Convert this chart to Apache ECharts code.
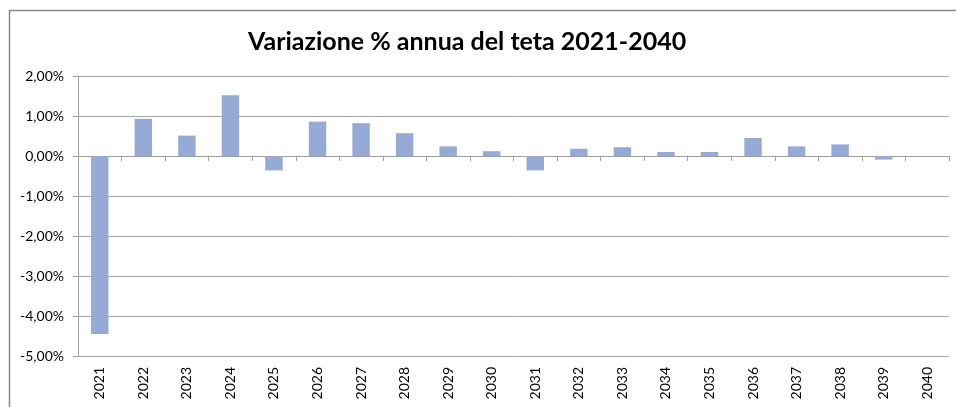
<!DOCTYPE html>
<html>
<head>
<meta charset="utf-8">
<script src="https://cdn.jsdelivr.net/npm/echarts@6/dist/echarts.min.js"></script>
<style>
html,body{margin:0;padding:0;background:#fff;}
#c{width:956px;height:407px;}
</style>
</head>
<body>
<div id="c"></div>
<script>
const categories = ['2021','2022','2023','2024','2025','2026','2027','2028','2029','2030','2031','2032','2033','2034','2035','2036','2037','2038','2039','2040'];
const values = [-4.45, 0.93, 0.51, 1.52, -0.36, 0.86, 0.82, 0.57, 0.24, 0.12, -0.36, 0.18, 0.22, 0.10, 0.10, 0.45, 0.24, 0.29, -0.09, 0];
const titleText = 'Variazione % annua del teta 2021-2040';
const yMin = -5, yMax = 2, yStep = 1;

const chart = echarts.init(document.getElementById('c'), null, {renderer:'canvas'});
const font = 'Lato, "Open Sans", sans-serif';
chart.setOption({
  animation: false,
  backgroundColor: '#fff',
  graphic: [{
    type: 'rect', left: 7, top: 8, z: -1,
    shape: {width: 960, height: 410},
    style: {fill: 'none', stroke: '#888', lineWidth: 1.5}
  }],
  title: {
    text: titleText, left: 243, top: 24,
    textStyle: {fontFamily: font, fontWeight: 'bold', fontSize: 25, color: '#000'}
  },
  grid: {left: 78, right: 7, top: 76, bottom: 51, containLabel: false},
  xAxis: [{
    type: 'category', data: categories,
    axisLine: {onZero: true, lineStyle: {color: '#a0a0a0', width: 1}},
    axisTick: {show: true, length: 5, lineStyle: {color: '#a0a0a0'}},
    axisLabel: {show: false}
  }, {
    type: 'category', data: categories, position: 'bottom',
    axisLine: {show: false}, axisTick: {show: false},
    axisLabel: {rotate: 90, margin: 11, fontFamily: font, fontSize: 14, color: '#000'}
  }],
  yAxis: {
    type: 'value', min: yMin, max: yMax, interval: yStep,
    axisLine: {show: true, lineStyle: {color: '#a0a0a0'}},
    axisTick: {show: true, length: 5, lineStyle: {color: '#a0a0a0'}},
    splitLine: {lineStyle: {color: '#a6a6a6', width: 1}},
    axisLabel: {
      margin: 14, fontFamily: font, fontSize: 14, color: '#000',
      formatter: v => v.toFixed(2).replace('.', ',') + '%'
    }
  },
  series: [{
    type: 'bar', data: values, xAxisIndex: 0, barWidth: '40%',
    itemStyle: {color: '#95abd5'}
  }]
});
</script>
</body>
</html>
